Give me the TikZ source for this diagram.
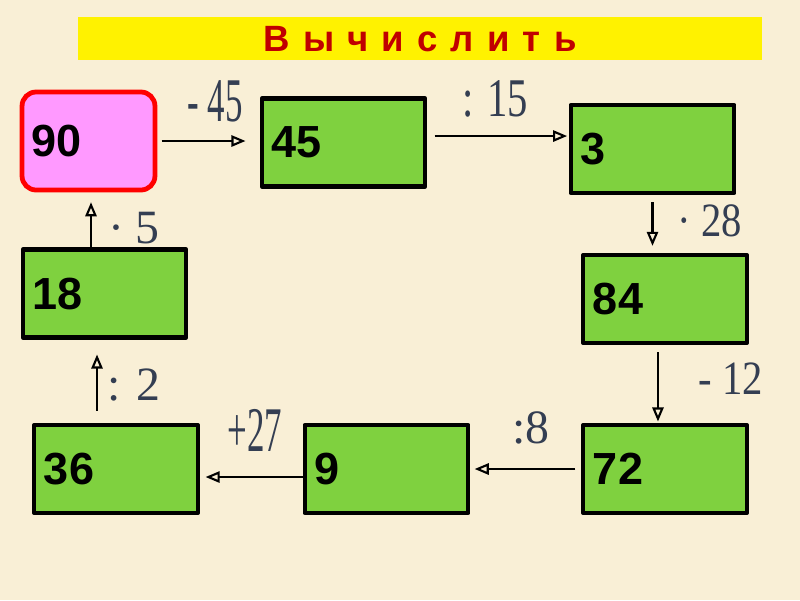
\documentclass[tikz,border=0pt]{standalone}
\usepackage{fontspec}
\usepackage{graphicx}
\setmainfont{Liberation Serif}
\newfontfamily\boxfont{Liberation Sans}
\usetikzlibrary{arrows.meta,calc}

\definecolor{bgbeige}{RGB}{249,239,214}
\definecolor{boxgreen}{RGB}{127,209,63}
\definecolor{boxpink}{RGB}{255,153,255}
\definecolor{titlered}{RGB}{192,0,0}
\definecolor{opslate}{RGB}{52,62,82}

\tikzset{
  numbox/.style={draw=black, line width=3pt, fill=boxgreen, text width=3.6cm,
    minimum height=2.2cm, inner xsep=7pt, align=left,
    font=\boxfont\bfseries\fontsize{32}{32}\selectfont},
  startbox/.style={numbox, draw=red, fill=boxpink, rounded corners=10pt,
    line width=3.4pt, text width=2.83cm, minimum height=2.45cm},
  conn/.style={line width=1.5pt, -{Triangle[open,length=10pt,width=8pt]}},
  oplabel/.style={text=opslate, inner sep=0pt, font=\fontsize{34}{34}\selectfont},
  titlebar/.style={fill=yellow},
}

\begin{document}
\begin{tikzpicture}[x=0.025cm, y=-0.025cm, line join=round]

% ======================================
% фон и заголовок
% ======================================
\fill[bgbeige] (0,0) rectangle (800,600);
\useasboundingbox (0,0) rectangle (800,600);
\fill[titlebar] (78,17) rectangle (762,60);
\node[text=titlered, font=\boxfont\bfseries\fontsize{26}{26}\selectfont]
  (title) at (420,39) {\spaceskip=0.36em\relax В ы ч и с л и т ь};

% ======================================
% клетки с числами
% ======================================
\node[startbox] (n90) at (88.5,141) {90};
\node[numbox] (n45) at (343.5,142.5) {45};
\node[numbox] (n3)  at (652.5,149) {3};
\node[numbox] (n84) at (665,299) {84};
\node[numbox] (n72) at (665,469) {72};
\node[numbox] (n9)  at (386.5,469) {9};
\node[numbox] (n36) at (116,469) {36};
\node[numbox] (n18) at (104.5,293.5) {18};

% ======================================
% стрелки по кругу
% ======================================
\draw[conn, shorten <=3pt, shorten >=10pt] (n90.east) -- (n90.east -| n45.west);
\draw[conn, shorten <=5pt, shorten >=1pt] ([yshift=4.6pt]n45.east) coordinate (s2) -- (s2 -| n3.west);
\draw[conn, shorten <=5pt, shorten >=5pt] (n3.south) -- (n3.south |- n84.north);
\draw[conn, shorten <=5pt, shorten >=1pt] ([xshift=-5pt]n84.south) coordinate (s4) -- (s4 |- n72.north);
\draw[conn, shorten <=4pt, shorten >=3pt] (n72.west) -- (n9.east);
\draw[conn, shorten >=4pt] ([yshift=-5.7pt]n9.west) coordinate (s6) -- (s6 -| n36.east);
\draw[conn, shorten <=8.5pt, shorten >=10.6pt] ([xshift=-13.5pt]n36.north) coordinate (s7) -- (s7 |- n18.south);
\draw[conn, shorten >=7pt] ([xshift=-9.6pt]n18.north) coordinate (s8) -- (s8 |- n90.south);

% ======================================
% действия над стрелками
% ======================================
\node[oplabel] (l1) at (215,101) {\scalebox{.73}[1.3]{- 45}};
\node[oplabel] (l2) at (495,99)  {\scalebox{.85}[1.14]{: 15}};
\node[oplabel] (l3) at (710,221) {\scalebox{.85}[1]{· 28}};
\node[oplabel] (l4) at (731,379) {\scalebox{.85}[1]{- 12}};
\node[oplabel] (l5) at (531,428) {:8};
\node[oplabel] (l6) at (255,430) {\scalebox{.73}[1.33]{+27}};
\node[oplabel] (l7) at (134,385) {: 2};
\node[oplabel] (l8) at (134,228) {· 5};

\end{tikzpicture}
\end{document}
